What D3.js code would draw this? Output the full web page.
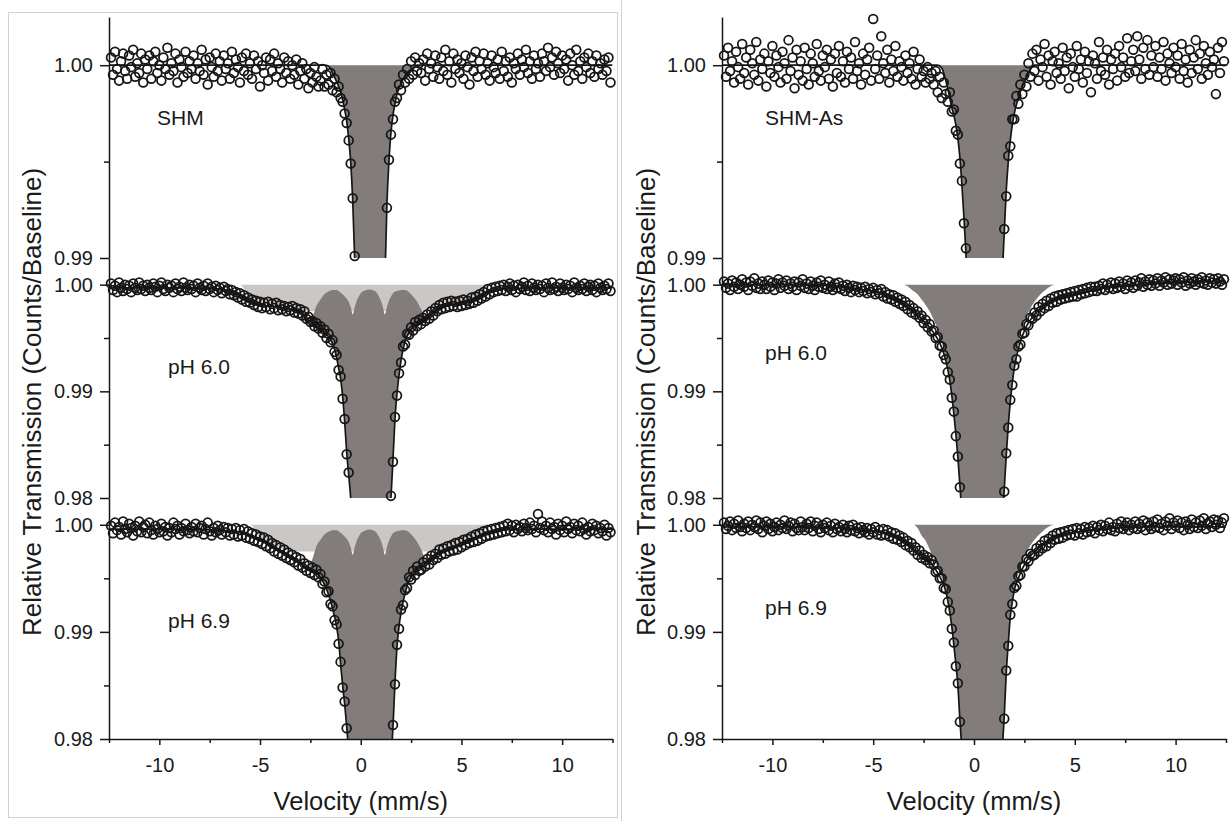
<!DOCTYPE html>
<html>
<head>
<meta charset="utf-8">
<script src="https://cdn.jsdelivr.net/npm/d3@7"></script>
<style>
  body { margin: 0; background: #fff; }
  svg text { font-family: "Liberation Sans", Arial, sans-serif; fill: #1a1a1a; }
</style>
</head>
<body>
<svg id="chart" width="1231" height="821"></svg>
<script>
// velocity channels (mm/s) of the measured points
const velocity = [
  -12.4,-12.3,-12.2,-12.1,-12.0,-11.9,-11.8,-11.7,-11.6,-11.5,-11.4,-11.3,-11.2,-11.1,-11.0,-10.9,-10.8,-10.7,-10.6,-10.5,
  -10.4,-10.3,-10.2,-10.1,-10.0,-9.9,-9.8,-9.7,-9.6,-9.5,-9.4,-9.3,-9.2,-9.1,-9.0,-8.9,-8.8,-8.7,-8.6,-8.5,
  -8.4,-8.3,-8.2,-8.1,-8.0,-7.9,-7.8,-7.7,-7.6,-7.5,-7.4,-7.3,-7.2,-7.1,-7.0,-6.9,-6.8,-6.7,-6.6,-6.5,
  -6.4,-6.3,-6.2,-6.1,-6.0,-5.9,-5.8,-5.7,-5.6,-5.5,-5.4,-5.3,-5.2,-5.1,-5.0,-4.9,-4.8,-4.7,-4.6,-4.5,
  -4.4,-4.3,-4.2,-4.1,-4.0,-3.9,-3.8,-3.7,-3.6,-3.5,-3.4,-3.3,-3.2,-3.1,-3.0,-2.9,-2.8,-2.7,-2.6,-2.5,
  -2.4,-2.3,-2.2,-2.1,-2.0,-1.9,-1.8,-1.7,-1.6,-1.5,-1.4,-1.3,-1.2,-1.1,-1.0,-0.9,-0.8,-0.7,-0.6,-0.5,
  -0.4,-0.3,-0.2,-0.1,0,0.1,0.2,0.3,0.4,0.5,0.6,0.7,0.8,0.9,1.0,1.1,1.2,1.3,1.4,1.5,
  1.6,1.7,1.8,1.9,2.0,2.1,2.2,2.3,2.4,2.5,2.6,2.7,2.8,2.9,3.0,3.1,3.2,3.3,3.4,3.5,
  3.6,3.7,3.8,3.9,4.0,4.1,4.2,4.3,4.4,4.5,4.6,4.7,4.8,4.9,5.0,5.1,5.2,5.3,5.4,5.5,
  5.6,5.7,5.8,5.9,6.0,6.1,6.2,6.3,6.4,6.5,6.6,6.7,6.8,6.9,7.0,7.1,7.2,7.3,7.4,7.5,
  7.6,7.7,7.8,7.9,8.0,8.1,8.2,8.3,8.4,8.5,8.6,8.7,8.8,8.9,9.0,9.1,9.2,9.3,9.4,9.5,
  9.6,9.7,9.8,9.9,10.0,10.1,10.2,10.3,10.4,10.5,10.6,10.7,10.8,10.9,11.0,11.1,11.2,11.3,11.4,11.5,
  11.6,11.7,11.8,11.9,12.0,12.1,12.2,12.3,12.4
];

// relative transmission of every channel
const countsSHM = [
  1.0004,.9995,1.0007,.9998,.9992,1.0002,1.0006,.9997,.9993,1.0005,
  .9999,1.0008,.9994,1.0001,.9996,1.0006,.9991,1.0003,.9998,1.0005,
  .9993,1.0002,1.0007,.9996,1.0000,.9992,1.0004,.9998,1.0009,.9995,
  1.0001,.9997,1.0006,.9991,1.0003,.9999,.9994,1.0007,.9996,1.0002,
  .9998,1.0005,.9993,1.0001,.9997,1.0008,.9995,1.0003,.9990,1.0004,
  .9999,.9994,1.0006,.9997,1.0002,.9992,1.0005,.9998,1.0001,.9993,
  1.0007,.9996,1.0003,.9999,.9991,1.0004,.9997,1.0006,.9995,1.0001,
  .9993,1.0005,.9998,1.0002,.9989,1.0000,.9996,1.0004,.9992,1.0003,
  .9997,1.0006,.9994,1.0001,.9998,.9991,1.0004,.9996,1.0002,.9993,
  1.0000,.9995,1.0003,.9990,.9997,1.0001,.9993,.9998,.9988,.9996,
  .9991,.9999,.9994,.9989,
  .9992,.9998,.9989,.9995,.9990,.9996,.9987,.9993,.9986,.9989,
  .9983,.9981,.9975,.9970,.9961,.9949,.9931,.9901,.9855,.9800,
  .9760,.9770,.9780,.9810,.9840,.9835,.9800,.9780,.9760,.9755,
  .9770,.9825,.9890,.9926,.9951,.9964,.9972,.9981,.9983,.9990,
  .9987,.9995,.9991,.9998,.9993,1.0002,.9995,1.0004,.9997,1.0001,
  .9996,1.0003,.9992,1.0006,.9998,1.0001,.9994,1.0005,.9999,.9993,
  1.0004,.9997,1.0008,.9995,1.0002,.9991,1.0006,.9998,1.0003,.9996,
  1.0001,.9993,1.0005,.9999,.9990,1.0004,.9997,1.0007,.9994,1.0002,
  .9998,1.0006,.9995,1.0001,.9992,1.0005,.9999,.9996,1.0003,.9993,
  1.0007,.9997,1.0002,.9994,1.0004,.9991,1.0001,.9998,1.0006,.9995,
  1.0003,.9999,1.0008,.9996,1.0002,.9993,1.0005,.9998,1.0001,.9994,
  1.0006,1.0002,.9997,1.0009,.9999,1.0004,.9995,1.0007,1.0001,.9996,
  1.0005,.9998,1.0003,.9992,1.0006,1.0000,.9995,1.0008,.9997,1.0002,
  .9993,1.0004,.9999,1.0006,.9996,1.0002,.9994,1.0005,.9998,1.0001,
  .9995,1.0003,.9997,1.0004,.9991
];
const countsSHMAs = [
  1.0005,.9994,1.0009,.9997,1.0002,.9991,1.0007,.9999,.9993,1.0011,
  .9996,1.0004,.9990,1.0008,1.0001,.9995,1.0012,.9992,1.0003,.9998,
  1.0006,.9989,1.0002,.9996,1.0010,.9994,1.0005,.9999,.9991,1.0007,
  1.0001,.9993,1.0013,.9997,1.0004,.9988,1.0008,.9995,1.0002,.9992,
  1.0009,.9998,.9990,1.0006,1.0001,.9994,1.0011,.9997,.9992,1.0005,
  .9999,1.0008,.9993,1.0003,.9989,1.0006,.9996,1.0010,.9994,1.0002,
  .9991,1.0007,.9998,1.0004,.9993,1.0012,.9997,1.0001,.9990,1.0006,
  .9995,1.0003,1.0009,.9992,1.0024,.9998,1.0005,.9993,1.0015,1.0001,
  .9996,1.0008,.9991,1.0003,.9997,1.0010,.9994,1.0002,.9999,.9992,
  1.0005,.9996,1.0001,.9993,1.0007,.9990,.9998,1.0003,.9994,.9997,
  .9991,.9999,.9993,.9996,
  .9990,.9997,.9986,.9994,.9983,.9991,.9985,.9981,.9986,.9976,
  .9977,.9966,.9964,.9949,.9940,.9918,.9905,.9876,.9842,.9800,
  .9760,.9740,.9720,.9730,.9750,.9740,.9730,.9720,.9720,.9720,
  .9740,.9770,.9815,.9858,.9889,.9915,.9932,.9953,.9958,.9972,
  .9972,.9984,.9980,.9990,.9985,.9995,.9989,1.0001,.9994,1.0006,
  .9997,1.0008,.9992,1.0003,.9999,1.0011,.9994,1.0005,.9990,1.0002,
  1.0007,.9996,1.0001,.9993,1.0009,.9997,1.0004,.9988,1.0006,.9999,
  .9994,1.0010,.9998,1.0003,.9991,1.0007,.9996,1.0002,.9986,1.0005,
  1.0001,.9993,1.0012,.9997,1.0004,.9995,1.0008,.9990,1.0003,.9998,
  1.0006,.9992,1.0010,.9999,1.0004,.9994,1.0014,.9996,1.0002,1.0008,
  .9997,1.0015,1.0003,.9993,1.0009,.9998,1.0013,.9995,1.0005,.9999,
  1.0010,.9994,1.0004,.9998,1.0012,.9992,1.0006,1.0001,.9996,1.0009,
  .9999,1.0005,.9993,1.0011,.9997,1.0003,.9991,1.0008,.9996,1.0004,
  1.0013,.9998,1.0006,.9993,1.0010,1.0001,.9995,1.0007,.9999,1.0003,
  .9985,1.0009,.9996,1.0012,1.0002
];
const countsLeft60 = [
  1.0001,.9995,.9999,.9993,1.0002,.9997,.9994,1.0000,.9996,.9999,
  .9993,1.0001,.9997,.9995,1.0002,.9996,.9999,.9994,1.0000,.9997,
  .9995,1.0001,.9998,.9993,.9999,1.0002,.9996,.9994,1.0000,.9997,
  .9999,.9993,1.0001,.9996,.9998,.9994,1.0002,.9997,.9995,1.0000,
  .9996,.9999,.9993,1.0001,.9997,.9995,.9999,.9994,1.0001,.9996,
  .9998,.9993,.9999,.9995,.9997,.9992,.9998,.9994,.9996,.9991,
  .9995,.9990,.9993,.9988,.9992,.9986,.9990,.9984,.9988,.9983,
  .9986,.9981,.9985,.9979,.9984,.9978,.9983,.9979,.9984,.9977,
  .9982,.9978,.9983,.9976,.9981,.9977,.9980,.9975,.9979,.9976,
  .9980,.9974,.9978,.9973,.9977,.9971,.9975,.9968,.9970,.9965,
  .9966,.9961,.9964,.9959,
  .9961,.9955,.9958,.9950,.9954,.9946,.9948,.9937,.9934,.9920,
  .9914,.9893,.9874,.9841,.9824,.9798,.9770,.9740,.9710,.9690,
  .9670,.9660,.9660,.9670,.9680,.9670,.9660,.9660,.9670,.9680,
  .9690,.9700,.9720,.9745,.9772,.9802,.9834,.9876,.9896,.9917,
  .9927,.9942,.9944,.9954,.9953,.9960,.9957,.9965,.9961,.9967,
  .9963,.9969,.9966,.9972,.9968,.9975,.9971,.9978,.9975,.9981,
  .9977,.9983,.9978,.9984,.9979,.9985,.9980,.9984,.9979,.9985,
  .9980,.9986,.9981,.9985,.9982,.9988,.9983,.9989,.9985,.9991,
  .9987,.9993,.9989,.9996,.9991,.9997,.9993,.9998,.9994,.9999,
  .9995,1.0000,.9994,.9998,1.0001,.9995,.9999,.9993,1.0000,.9996,
  .9998,1.0002,.9995,.9999,.9994,1.0001,.9997,.9995,1.0000,.9996,
  .9999,.9993,1.0001,.9997,.9995,1.0002,.9996,.9998,.9994,1.0001,
  .9997,.9995,1.0000,.9996,.9999,.9993,1.0002,.9997,.9995,.9999,
  .9996,1.0001,.9994,.9998,1.0000,.9995,.9999,.9993,1.0001,.9997,
  .9995,.9999,.9996,1.0001,.9994
];
const countsLeft69 = [
  .9999,.9992,1.0002,.9995,.9998,.9991,1.0003,.9996,.9993,1.0001,
  .9997,.9990,.9999,.9994,1.0003,.9993,.9998,1.0000,.9992,1.0002,
  .9995,.9991,.9999,.9996,.9993,1.0001,.9994,.9998,.9990,.9997,
  .9993,1.0002,.9996,.9999,.9991,.9997,.9994,1.0001,.9995,.9992,
  .9998,.9994,1.0001,.9993,.9997,.9999,.9991,.9996,1.0002,.9994,
  .9990,.9997,.9993,.9999,.9995,.9991,.9998,.9993,.9997,.9990,
  .9996,.9991,.9997,.9989,.9995,.9990,.9996,.9988,.9994,.9987,
  .9992,.9985,.9991,.9984,.9989,.9982,.9988,.9980,.9986,.9978,
  .9983,.9975,.9981,.9973,.9979,.9971,.9977,.9969,.9974,.9967,
  .9972,.9965,.9970,.9962,.9968,.9960,.9964,.9957,.9962,.9955,
  .9960,.9953,.9958,.9951,
  .9954,.9945,.9947,.9937,.9938,.9926,.9924,.9911,.9907,.9889,
  .9872,.9848,.9835,.9810,.9786,.9760,.9730,.9700,.9680,.9670,
  .9660,.9650,.9650,.9660,.9670,.9660,.9650,.9650,.9660,.9670,
  .9690,.9700,.9720,.9740,.9760,.9782,.9813,.9851,.9888,.9903,
  .9921,.9925,.9939,.9941,.9951,.9949,.9957,.9953,.9961,.9957,
  .9958,.9965,.9961,.9968,.9963,.9971,.9967,.9973,.9969,.9977,
  .9972,.9978,.9973,.9980,.9975,.9981,.9976,.9983,.9977,.9984,
  .9979,.9986,.9981,.9987,.9983,.9989,.9984,.9991,.9985,.9992,
  .9987,.9994,.9989,.9995,.9990,.9996,.9991,.9997,.9992,.9998,
  .9993,.9999,.9994,1.0001,.9995,.9999,.9993,1.0000,.9996,.9998,
  .9994,1.0001,.9997,.9995,1.0002,.9996,.9999,.9993,1.0010,.9997,
  1.0003,.9995,.9999,.9993,1.0002,.9996,.9998,.9991,1.0001,.9995,
  .9999,.9993,1.0003,.9996,.9998,.9992,1.0001,.9995,.9999,.9994,
  1.0002,.9996,.9991,.9998,.9994,1.0001,.9995,.9999,.9992,.9997,
  .9994,1.0000,.9990,.9997,.9993
];
const countsRight60 = [
  1.0003,.9997,1.0001,.9995,1.0004,.9998,1.0002,.9996,1.0000,1.0005,
  .9998,1.0002,.9995,1.0003,.9999,1.0006,.9997,1.0001,.9996,1.0003,
  1.0000,.9996,1.0004,.9998,1.0002,.9995,1.0001,1.0005,.9997,1.0002,
  .9999,1.0004,.9996,1.0001,.9998,1.0003,.9995,1.0002,.9999,1.0005,
  .9997,1.0001,.9996,1.0003,.9999,.9995,1.0002,.9998,1.0004,.9997,
  1.0000,.9996,1.0003,.9998,.9995,1.0001,.9997,1.0002,.9996,.9999,
  .9994,1.0000,.9997,.9993,.9999,.9995,.9998,.9993,.9997,.9994,
  .9998,.9992,.9996,.9993,.9997,.9991,.9995,.9992,.9996,.9989,
  .9993,.9987,.9991,.9986,.9990,.9984,.9988,.9982,.9986,.9980,
  .9984,.9977,.9981,.9974,.9978,.9972,.9975,.9969,.9971,.9964,
  .9967,.9960,.9963,.9956,
  .9957,.9950,.9951,.9943,.9942,.9934,.9930,.9918,.9911,.9894,
  .9881,.9858,.9839,.9810,.9787,.9760,.9730,.9700,.9680,.9660,
  .9650,.9640,.9640,.9650,.9660,.9650,.9640,.9640,.9650,.9660,
  .9680,.9700,.9720,.9745,.9777,.9806,.9842,.9866,.9892,.9906,
  .9924,.9930,.9942,.9944,.9954,.9955,.9963,.9962,.9969,.9968,
  .9974,.9971,.9979,.9975,.9982,.9978,.9985,.9980,.9987,.9983,
  .9989,.9984,.9990,.9986,.9991,.9987,.9992,.9988,.9993,.9989,
  .9994,.9989,.9995,.9991,.9996,.9992,.9997,.9993,.9998,.9994,
  .9998,.9994,.9999,.9996,1.0001,.9995,1.0000,.9997,1.0002,.9996,
  1.0001,.9997,1.0003,.9998,1.0001,.9996,1.0004,.9999,1.0002,.9997,
  1.0004,.9999,1.0002,1.0006,.9998,1.0003,1.0000,1.0005,.9999,1.0004,
  1.0001,1.0006,.9999,1.0004,1.0002,1.0007,1.0000,1.0005,1.0001,1.0004,
  1.0006,1.0000,1.0005,1.0002,1.0007,.9999,1.0004,1.0001,1.0006,1.0003,
  1.0000,1.0005,1.0002,1.0007,1.0001,1.0004,1.0000,1.0006,1.0002,1.0005,
  1.0001,1.0006,1.0003,1.0000,1.0005
];
const countsRight69 = [
  1.0002,.9996,.9999,1.0003,.9995,1.0001,.9997,1.0004,.9998,.9994,
  1.0001,.9997,1.0003,.9995,1.0000,.9998,1.0004,.9996,1.0002,.9993,
  .9999,1.0003,.9996,1.0001,.9994,.9998,1.0002,.9995,1.0000,.9997,
  1.0004,.9996,.9999,1.0002,.9994,1.0001,.9997,.9995,1.0003,.9998,
  .9995,1.0001,.9997,1.0003,.9994,.9999,1.0002,.9996,.9993,1.0000,
  .9997,1.0002,.9995,.9999,.9993,1.0001,.9996,.9998,.9994,1.0000,
  .9996,.9993,.9999,.9995,1.0000,.9994,.9997,.9992,.9998,.9995,
  .9993,.9997,.9991,.9996,.9993,.9998,.9991,.9995,.9990,.9996,
  .9991,.9995,.9989,.9993,.9987,.9992,.9986,.9990,.9984,.9988,
  .9981,.9985,.9979,.9983,.9976,.9979,.9972,.9976,.9969,.9972,
  .9967,.9970,.9964,.9967,
  .9963,.9956,.9957,.9950,.9950,.9941,.9940,.9928,.9920,.9903,
  .9890,.9868,.9852,.9816,.9792,.9760,.9730,.9700,.9670,.9650,
  .9640,.9630,.9630,.9640,.9650,.9640,.9630,.9630,.9640,.9660,
  .9680,.9710,.9740,.9765,.9792,.9819,.9864,.9887,.9916,.9926,
  .9941,.9943,.9952,.9953,.9961,.9961,.9968,.9966,.9973,.9971,
  .9972,.9978,.9975,.9981,.9978,.9985,.9980,.9987,.9983,.9990,
  .9986,.9992,.9987,.9993,.9988,.9994,.9990,.9995,.9991,.9996,
  .9990,.9997,.9992,.9996,.9991,.9998,.9993,.9997,.9994,.9999,
  .9992,.9998,.9995,1.0000,.9994,.9999,.9996,1.0002,.9995,.9998,
  .9994,1.0001,.9997,1.0003,.9996,.9999,1.0002,.9995,1.0000,.9997,
  1.0003,.9996,1.0001,.9998,1.0004,.9995,1.0002,.9999,.9996,1.0003,
  .9998,1.0005,.9997,1.0001,.9995,1.0003,.9999,1.0006,.9996,1.0002,
  .9999,1.0004,.9997,1.0002,.9995,1.0003,1.0000,.9996,1.0005,.9998,
  1.0002,.9997,1.0004,.9999,1.0006,.9996,1.0001,1.0003,.9998,1.0005,
  1.0000,1.0004,.9997,1.0002,1.0006
];

// velocities where the fitted curves and component edges were read
const curveVelocity = [
  -12.5,-9,-7,-6.5,-6,-5.5,-5,-4.5,-4,-3.5,
  -3,-2.8,-2.6,-2.4,-2.2,-2,-1.8,-1.6,-1.4,-1.2,
  -1.1,-1,-0.9,-0.8,-0.7,-0.6,-0.5,-0.4,-0.3,-0.2,
  -0.1,0,0.2,0.45,0.7,0.9,1,1.1,1.2,1.3,
  1.4,1.5,1.6,1.7,1.8,1.9,2,2.2,2.4,2.6,
  2.8,3,3.3,3.6,4,4.5,5,5.5,6,6.5,
  7,9,12.5
];

// total fits
const fitSHM = [
  1,1,1,1,1,1,1,1,1,1,
  1,1,1,1,1,1,1,.99995,.9996,.99915,
  .9989,.9986,.9982,.9977,.9971,.9962,.9950,.9930,.9899,.9855,
  .9800,.9760,.9780,.9840,.9780,.9755,.9770,.9825,.9888,.9928,
  .9950,.9965,.9974,.9980,.9985,.9988,.99905,.99945,.9997,.99985,
  1,1,1,1,1,1,1,1,1,1,
  1,1,1
];
const fitSHMAs = [
  1,1,1,1,1,1,1,1,1,1,
  1,1,1,1,1,1,1,.99985,.9992,.9983,
  .9978,.9974,.9969,.9962,.9952,.9938,.9921,.9902,.9876,.9842,
  .9800,.9760,.9720,.9750,.9720,.9720,.9740,.9770,.9815,.9858,
  .9890,.9913,.9935,.9950,.9961,.9969,.9975,.9983,.9989,.99935,
  .9998,1,1,1,1,1,1,1,1,1,
  1,1,1
];
const fitLeft60 = [
  .9997,.9997,.9996,.9994,.9990,.9985,.9981,.9980,.9979,.9977,
  .9974,.9971,.9967,.9964,.9961,.9958,.9955,.9951,.9945,.9932,
  .9922,.9912,.9895,.9872,.9843,.9822,.9800,.9770,.9740,.9710,
  .9690,.9670,.9660,.9680,.9660,.9670,.9690,.9700,.9720,.9745,
  .9770,.9800,.9836,.9874,.9898,.9915,.9929,.9947,.9955,.9960,
  .9963,.9965,.9969,.9974,.9979,.9981,.9982,.9984,.9989,.9994,
  .9996,.9997,.9997
];
const fitLeft69 = [
  .9996,.9996,.9995,.9994,.9993,.9990,.9986,.9981,.9976,.9970,
  .9964,.9961,.9959,.9957,.9955,.9951,.9944,.9935,.9922,.9905,
  .9892,.9870,.9850,.9833,.9812,.9788,.9760,.9730,.9700,.9680,
  .9670,.9660,.9650,.9660,.9650,.9660,.9690,.9700,.9720,.9745,
  .9760,.9782,.9811,.9853,.9886,.9905,.9918,.9936,.9948,.9954,
  .9958,.9961,.9965,.9970,.9975,.9978,.9981,.9986,.9990,.9993,
  .9995,.9996,.9996
];
const fitRight60 = [
  1.0000,1.0000,.9999,.9998,.9997,.9995,.9994,.9991,.9987,.9982,
  .9975,.9972,.9968,.9964,.9960,.9955,.9949,.9941,.9929,.9910,
  .9896,.9879,.9860,.9838,.9812,.9785,.9760,.9730,.9700,.9680,
  .9660,.9650,.9640,.9650,.9640,.9650,.9660,.9680,.9700,.9745,
  .9775,.9808,.9840,.9868,.9890,.9908,.9922,.9940,.9952,.9961,
  .9967,.9972,.9978,.9982,.9986,.9989,.9991,.9993,.9995,.9997,
  .9998,1.0001,1.0003
];
const fitRight69 = [
  .9998,.9998,.9997,.9997,.9996,.9995,.9994,.9993,.9990,.9985,
  .9977,.9974,.9971,.9969,.9966,.9961,.9955,.9948,.9938,.9918,
  .9905,.9888,.9870,.9850,.9818,.9790,.9760,.9730,.9700,.9670,
  .9650,.9640,.9630,.9640,.9630,.9650,.9670,.9700,.9730,.9760,
  .9790,.9821,.9862,.9889,.9914,.9928,.9939,.9950,.9959,.9966,
  .9971,.9975,.9980,.9984,.9989,.9991,.9993,.9994,.9995,.9996,
  .9997,.9998,.9998
];

// magnetic (sextet) component, lower edge of the light area
const sextetLeft60 = [
  1,1,1,1,1,.9987,.9983,.9982,.9981,.9979,
  .9976,.99755,.9975,.9975,.9975,.9975,.9975,.9975,.9975,.9975,
  .9975,.9975,.9975,.9975,.9975,.9975,.9975,.9975,.9975,.9975,
  .9975,.9975,.9975,.9975,.9975,.9975,.9975,.9975,.9975,.9975,
  .9975,.9975,.9975,.9975,.9975,.9975,.9975,.9975,.9975,.9975,
  .9975,.9975,.9975,.9976,.9981,.9983,.9984,.9986,.9992,1,
  1,1,1
];
const sextetLeft69 = [
  1,1,1,1,1,1,.9988,.9983,.9978,.9976,
  .9975,.9975,.9975,.9975,.9975,.9975,.9975,.9975,.9975,.9975,
  .9975,.9975,.9975,.9975,.9975,.9975,.9975,.9975,.9975,.9975,
  .9975,.9975,.9975,.9975,.9975,.9975,.9975,.9975,.9975,.9975,
  .9975,.9975,.9975,.9975,.9975,.9975,.9975,.9975,.9975,.9975,
  .9975,.9975,.9975,.9976,.9977,.9980,.9983,.9988,.9993,1,
  1,1,1
];

// doublet component, upper edge of the dark area (left pH spectra)
const doubletTopLeft60 = [
  .9997,.9997,.9996,.9994,.9990,.9985,.9981,.9980,.9979,.9977,
  .9974,.9971,.9967,.9970,.9980,.9986,.9991,.99935,.9995,.9995,
  .9994,.99925,.9991,.9989,.9987,.9984,.9979,.9972,.9979,.9985,
  .9989,.9992,.99945,.99955,.9994,.9989,.9985,.9979,.9972,.9979,
  .9985,.9989,.9992,.99935,.9994,.99945,.9995,.9995,.9993,.9989,
  .9984,.9977,.9969,.9974,.9979,.9981,.9982,.9984,.9989,.9994,
  .9996,.9997,.9997
];
const doubletTopLeft69 = [
  .9996,.9996,.9995,.9994,.9993,.9990,.9986,.9981,.9976,.9970,
  .9964,.9961,.9959,.9968,.9980,.9986,.9991,.99935,.9995,.9995,
  .9994,.99925,.9991,.9989,.9987,.9984,.9979,.9972,.9979,.9985,
  .9989,.9992,.99945,.99955,.9994,.9989,.9985,.9979,.9972,.9979,
  .9985,.9989,.9992,.99935,.9994,.99945,.9995,.9995,.9993,.9989,
  .9984,.9977,.9965,.9970,.9975,.9978,.9981,.9986,.9990,.9993,
  .9995,.9996,.9996
];

// doublet component, lower edge of the dark area (right pH spectra)
const doubletRight60 = [
  1,1,1,1,1,1,1,1,1,1,
  .9994,.9991,.9986,.9981,.9975,.9967,.9958,.9946,.9931,.9911,
  .9896,.9879,.9860,.9838,.9812,.9785,.9760,.9730,.9700,.9680,
  .9660,.9650,.9640,.9650,.9640,.9650,.9660,.9680,.9700,.9745,
  .9775,.9808,.9840,.9868,.9890,.9908,.9922,.9944,.9959,.9970,
  .9978,.9984,.9991,.9996,1,1,1,1,1,1,
  1,1,1
];
const doubletRight69 = [
  1,1,1,1,1,1,1,1,1,1,
  1,.9997,.9990,.9985,.9977,.9969,.9960,.9951,.9939,.9918,
  .9905,.9888,.9870,.9850,.9818,.9790,.9760,.9730,.9700,.9670,
  .9650,.9640,.9630,.9640,.9630,.9650,.9670,.9700,.9730,.9760,
  .9790,.9821,.9862,.9889,.9914,.9928,.9940,.9955,.9966,.9974,
  .9981,.9986,.9992,.9997,1,1,1,1,1,1,
  1,1,1
];

const sampleLabels = ["SHM", "pH 6.0", "pH 6.9", "SHM-As", "pH 6.0", "pH 6.9"];
const yMajorTicks = [1.00, 0.99, 0.98];
const yMinorTicks = [0.995, 0.985];
const xMajorTicks = [-10, -5, 0, 5, 10];
const xMinorTicks = [-12.5, -7.5, -2.5, 2.5, 7.5, 12.5];

// ---- layout ----
const svg = d3.select("#chart");
const xDomain = [-12.5, 12.5];
const yTop = 1.0025;
const ink = "#161616";

const panels = [
  {left: 109, right: 612.5, titleX: 41},
  {left: 722, right: 1226, titleX: 655}
];
const rows = [
  {top: 17, bottom: 258, min: 0.99},
  {top: 258, bottom: 498, min: 0.98},
  {top: 498, bottom: 739, min: 0.98}
];

const spectra = [
  {panel: 0, row: 0, counts: countsSHM, fit: fitSHM, doublet: fitSHM, lx: 48, ly: 108},
  {panel: 0, row: 1, counts: countsLeft60, fit: fitLeft60, sextet: sextetLeft60, top: doubletTopLeft60, lx: 59, ly: 116},
  {panel: 0, row: 2, counts: countsLeft69, fit: fitLeft69, sextet: sextetLeft69, top: doubletTopLeft69, lx: 59, ly: 130},
  {panel: 1, row: 0, counts: countsSHMAs, fit: fitSHMAs, doublet: fitSHMAs, lx: 43, ly: 108},
  {panel: 1, row: 1, counts: countsRight60, fit: fitRight60, doublet: doubletRight60, lx: 43, ly: 102},
  {panel: 1, row: 2, counts: countsRight69, fit: fitRight69, doublet: doubletRight69, lx: 43, ly: 117}
];

// faint frames of the two pasted figures
svg.append("rect").attr("x", 8.5).attr("y", 12.5).attr("width", 609).attr("height", 805)
  .attr("fill", "none").attr("stroke", "#d2d2d2");
svg.append("line").attr("x1", 621.5).attr("x2", 621.5).attr("y1", 0).attr("y2", 821)
  .attr("stroke", "#d2d2d2");

spectra.forEach((s, k) => {
  const p = panels[s.panel], r = rows[s.row];
  const x = d3.scaleLinear().domain(xDomain).range([p.left, p.right]);
  const y = d3.scaleLinear().domain([r.min, yTop]).range([r.bottom, r.top]);

  svg.append("clipPath").attr("id", "clip" + k).append("rect")
    .attr("x", p.left).attr("y", r.top)
    .attr("width", p.right - p.left).attr("height", r.bottom - r.top);
  const g = svg.append("g").attr("clip-path", `url(#clip${k})`);

  // light grey sextet area
  if (s.sextet) {
    g.append("path").datum(curveVelocity)
      .attr("d", d3.area().x(d => x(d)).y0(y(1)).y1((d, i) => y(s.sextet[i])).curve(d3.curveMonotoneX))
      .attr("fill", "#cbc7c5");
  }
  // dark grey doublet area
  const upper = i => s.top ? s.top[i] : 1;
  const lower = i => s.top ? s.fit[i] : s.doublet[i];
  g.append("path").datum(curveVelocity)
    .attr("d", d3.area().x(d => x(d)).y0((d, i) => y(upper(i))).y1((d, i) => y(lower(i))).curve(d3.curveMonotoneX))
    .attr("fill", "#827d7b");
  // fit line
  g.append("path").datum(curveVelocity)
    .attr("d", d3.line().x(d => x(d)).y((d, i) => y(s.fit[i])).curve(d3.curveMonotoneX))
    .attr("fill", "none").attr("stroke", ink).attr("stroke-width", 1.7);

  // measured points
  const pts = velocity.map((v, i) => [v, s.counts[i]]).filter(d => d[1] >= r.min && d[1] <= yTop);
  svg.append("g").selectAll("circle").data(pts).join("circle")
    .attr("cx", d => x(d[0])).attr("cy", d => y(d[1])).attr("r", 4.4)
    .attr("fill", "none").attr("stroke", ink).attr("stroke-width", 1.75);

  svg.append("text").attr("x", p.left + s.lx).attr("y", r.top + s.ly)
    .attr("font-size", 21).text(sampleLabels[k]);
});

// axes
function styleAxis(g) {
  g.selectAll("path, line").attr("stroke", ink).attr("stroke-width", 1.5);
  g.selectAll("text").attr("font-size", 20).attr("fill", ink)
    .attr("font-family", '"Liberation Sans", Arial, sans-serif');
}

panels.forEach(p => {
  const x = d3.scaleLinear().domain(xDomain).range([p.left, p.right]);
  rows.forEach(r => {
    const y = d3.scaleLinear().domain([r.min, yTop]).range([r.bottom, r.top]);
    svg.append("g").attr("transform", `translate(${p.left},0)`)
      .call(d3.axisLeft(y).tickValues(yMajorTicks.filter(v => v >= r.min - 1e-9))
        .tickSize(9).tickSizeOuter(0).tickPadding(7).tickFormat(d3.format(".2f")))
      .call(styleAxis);
    svg.append("g").attr("transform", `translate(${p.left},0)`)
      .call(d3.axisLeft(y).tickValues(yMinorTicks.filter(v => v > r.min))
        .tickSize(5).tickSizeOuter(0).tickFormat(""))
      .call(styleAxis)
      .call(g => g.select(".domain").remove());
  });
  const base = rows[rows.length - 1].bottom;
  svg.append("g").attr("transform", `translate(0,${base})`)
    .call(d3.axisBottom(x).tickValues(xMajorTicks).tickSize(6).tickSizeOuter(0)
      .tickFormat(d => String(d)))
    .call(styleAxis)
    .call(g => g.selectAll("text").attr("y", 33).attr("dy", null));
  svg.append("g").attr("transform", `translate(0,${base})`)
    .call(d3.axisBottom(x).tickValues(xMinorTicks).tickSize(4).tickSizeOuter(0).tickFormat(""))
    .call(styleAxis)
    .call(g => g.select(".domain").remove());

  svg.append("text").attr("x", x(0)).attr("y", 810).attr("text-anchor", "middle")
    .attr("font-size", 25.5).text("Velocity (mm/s)");
  svg.append("text").attr("transform", `translate(${p.titleX},402) rotate(-90)`)
    .attr("text-anchor", "middle").attr("font-size", 26)
    .text("Relative Transmission (Counts/Baseline)");
});
</script>
</body>
</html>
